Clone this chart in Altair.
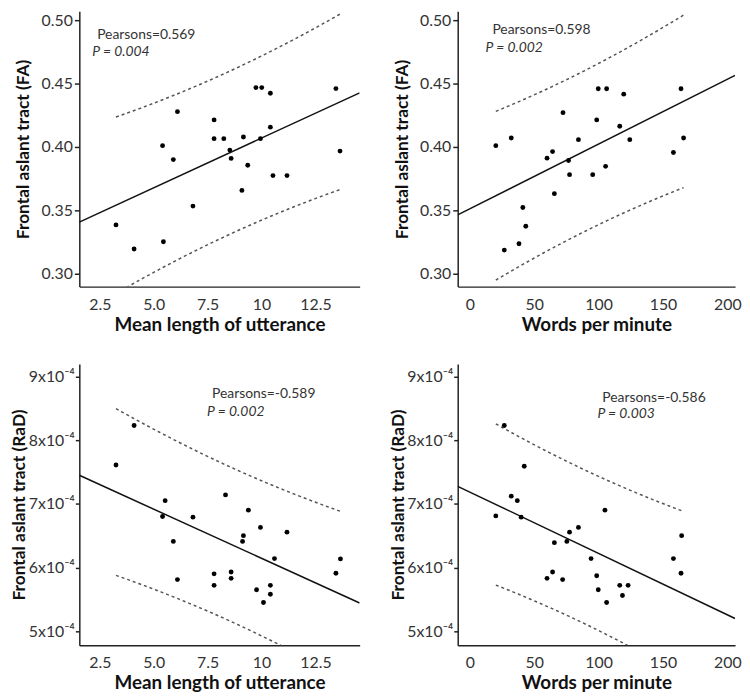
import altair as alt
import numpy as np
import pandas as pd

# ---------------- data ----------------
# Top-left: Mean length of utterance vs FA
mlu_fa_x = [3.25, 4.09, 5.45, 5.41, 5.91, 6.10, 6.82, 7.80, 7.80, 8.25, 8.53, 8.59,
            9.09, 9.16, 9.36, 9.74, 10.01, 9.95, 10.41, 10.41, 10.53, 11.18, 13.45, 13.64]
mlu_fa_y = [0.3385, 0.3195, 0.3252, 0.401, 0.390, 0.4278, 0.3533, 0.4213, 0.4065, 0.4065, 0.3975, 0.3909,
            0.3657, 0.4078, 0.3855, 0.4468, 0.4468, 0.4065, 0.4423, 0.4156, 0.3774, 0.3774, 0.446, 0.3967]

# Top-right: Words per minute vs FA
wpm_fa_x = [20.1, 26.7, 32.1, 38.1, 41.1, 43.4, 59.9, 64.2, 65.6, 72.3, 76.6, 77.4,
            84.3, 95.4, 98.5, 99.7, 105.4, 106.2, 116.4, 119.5, 124.2, 158.1, 164.0, 166.0]
wpm_fa_y = [0.401, 0.3186, 0.407, 0.3236, 0.3522, 0.3374, 0.3911, 0.3963, 0.3631, 0.427, 0.3893, 0.3781,
            0.4057, 0.3781, 0.4213, 0.4459, 0.3847, 0.4459, 0.4163, 0.4416, 0.4057, 0.3956, 0.4459, 0.407]

# Bottom-left: Mean length of utterance vs RaD (units of 1e-4)
mlu_rad_x = [3.25, 4.09, 5.41, 5.53, 5.91, 6.10, 6.82, 7.80, 7.80, 8.33, 8.59, 8.59,
             9.12, 9.16, 9.39, 9.77, 9.95, 10.09, 10.41, 10.41, 10.60, 11.18, 13.45, 13.66]
mlu_rad_y = [7.61, 8.23, 6.80, 7.05, 6.41, 5.81, 6.79, 5.90, 5.72, 7.14, 5.93, 5.83,
             6.41, 6.50, 6.90, 5.65, 6.63, 5.45, 5.72, 5.58, 6.14, 6.555, 5.91, 6.135]

# Bottom-right: Words per minute vs RaD (units of 1e-4)
wpm_rad_x = [20.1, 26.7, 32.1, 36.8, 39.8, 42.2, 59.9, 64.2, 65.6, 72.0, 75.3, 77.4,
             84.3, 94.1, 98.5, 99.7, 104.9, 106.2, 116.4, 118.5, 122.9, 158.1, 164.0, 164.5]
wpm_rad_y = [6.81, 8.23, 7.12, 7.05, 6.79, 7.59, 5.83, 5.93, 6.39, 5.81, 6.41, 6.555,
             6.63, 6.14, 5.87, 5.65, 6.90, 5.45, 5.72, 5.56, 5.72, 6.14, 5.91, 6.50]

pearson_text = ["Pearsons=0.569", "Pearsons=0.598", "Pearsons=-0.589", "Pearsons=-0.586"]
p_text = ["P = 0.004", "P = 0.002", "P = 0.002", "P = 0.003"]

mlu_ticks = [2.5, 5.0, 7.5, 10.0, 12.5]
wpm_ticks = [0, 50, 100, 150, 200]
fa_ticks = [0.30, 0.35, 0.40, 0.45, 0.50]
rad_ticks = [5, 6, 7, 8, 9]

T95 = 2.074  # t(0.975, df=22)


def band_frame(x, y, n_pts=80):
    x = np.asarray(x, float)
    y = np.asarray(y, float)
    n = len(x)
    b, a = np.polyfit(x, y, 1)
    resid = y - (a + b * x)
    s = np.sqrt((resid ** 2).sum() / (n - 2))
    xbar = x.mean()
    sxx = ((x - xbar) ** 2).sum()
    xs = np.linspace(x.min(), x.max(), n_pts)
    fit = a + b * xs
    half = T95 * s * np.sqrt(1 + 1 / n + (xs - xbar) ** 2 / sxx)
    return pd.DataFrame({
        "x": np.concatenate([xs, xs]),
        "y": np.concatenate([fit + half, fit - half]),
        "side": ["upper"] * n_pts + ["lower"] * n_pts,
    })


def panel(x, y, xdom, ydom, xticks, yticks, xexpr, yexpr, xtitle, ytitle,
          w, h, ytitle_x, tick_size, label_pad, pear, pval, pear_xy, p_xy):
    pts = pd.DataFrame({"x": x, "y": y})
    xs = alt.Scale(domain=xdom, nice=False, zero=False)
    ys = alt.Scale(domain=ydom, nice=False, zero=False)
    xaxis = alt.Axis(values=xticks, labelExpr=xexpr, title=xtitle, ticks=False,
                     labelPadding=10, titleY=44, titleBaseline="alphabetic",
                     titleFontSize=19)
    yaxis = alt.Axis(values=yticks, labelExpr=yexpr, title=ytitle, tickSize=tick_size,
                     labelPadding=label_pad, titleX=ytitle_x, titleBaseline="middle",
                     titleFontSize=17.5)
    X = alt.X("x:Q", scale=xs, axis=xaxis)
    Y = alt.Y("y:Q", scale=ys, axis=yaxis)
    base = alt.Chart(pts)
    points = base.mark_circle(size=24, color="black", opacity=1).encode(x=X, y=Y)
    line = base.transform_regression("x", "y", extent=xdom).mark_line(
        color="#111", strokeWidth=1.5, clip=True
    ).encode(x=X, y=Y)
    band = alt.Chart(band_frame(x, y)).mark_line(
        color="#555", strokeWidth=1.5, strokeDash=[3, 3], clip=True
    ).encode(x=X, y=Y, detail="side:N")
    t1 = alt.Chart(pd.DataFrame({"t": [pear]})).mark_text(
        align="left", baseline="alphabetic", font="Lato", fontSize=14, color="#333"
    ).encode(x=alt.value(pear_xy[0]), y=alt.value(pear_xy[1]), text="t:N")
    t2 = alt.Chart(pd.DataFrame({"t": [pval]})).mark_text(
        align="left", baseline="alphabetic", font="Lato", fontSize=14, fontStyle="italic",
        color="#333"
    ).encode(x=alt.value(p_xy[0]), y=alt.value(p_xy[1]), text="t:N")
    return alt.layer(band, line, points, t1, t2).properties(width=w, height=h)


mlu_expr = "datum.value == 10 ? '10' : format(datum.value, '.1f')"
wpm_expr = "format(datum.value, 'd')"
fa_expr = "format(datum.value, '.2f')"
rad_expr = "datum.value + 'x10\u207b\u2074'"

mlu_dom = [1.55, 14.55]
wpm_dom = [-9.5, 206]
fa_dom = [0.2898, 0.507]
rad_dom = [4.78, 9.197]

tl = panel(mlu_fa_x, mlu_fa_y, mlu_dom, fa_dom, mlu_ticks, fa_ticks, mlu_expr, fa_expr,
           "Mean length of utterance", "Frontal aslant tract (FA)", 283, 278, -56, 5, 2,
           pearson_text[0], p_text[0], (18, 28), (13, 45))
tr = panel(wpm_fa_x, wpm_fa_y, wpm_dom, fa_dom, wpm_ticks, fa_ticks, wpm_expr, fa_expr,
           "Words per minute", "Frontal aslant tract (FA)", 280, 278, -56, 5, 2,
           pearson_text[1], p_text[1], (35, 23), (28, 41))
bl = panel(mlu_rad_x, mlu_rad_y, mlu_dom, rad_dom, mlu_ticks, rad_ticks, mlu_expr, rad_expr,
           "Mean length of utterance", "Frontal aslant tract (RaD)", 283, 284, -60, 4, 1,
           pearson_text[2], p_text[2], (134, 34), (129, 53))
br = panel(wpm_rad_x, wpm_rad_y, wpm_dom, rad_dom, wpm_ticks, rad_ticks, wpm_expr, rad_expr,
           "Words per minute", "Frontal aslant tract (RaD)", 280, 284, -60, 4, 1,
           pearson_text[3], p_text[3], (146, 38), (141, 55))

chart = alt.concat(tl, tr, bl, br, columns=2, spacing={"row": 30, "column": 30}).properties(
    padding={"left": 3, "top": 0, "right": 0, "bottom": 0}
).configure_view(stroke=None).configure_axis(
    grid=False, domainColor="#222", domainWidth=1.5, tickColor="#222", tickWidth=1.5,
    labelFont="Lato", labelFontSize=16, labelColor="#333",
    titleFont="Lato", titleFontWeight="bold", titleColor="#111",
)

chart.save("out.html", embed_options={"renderer": "svg", "actions": False})
